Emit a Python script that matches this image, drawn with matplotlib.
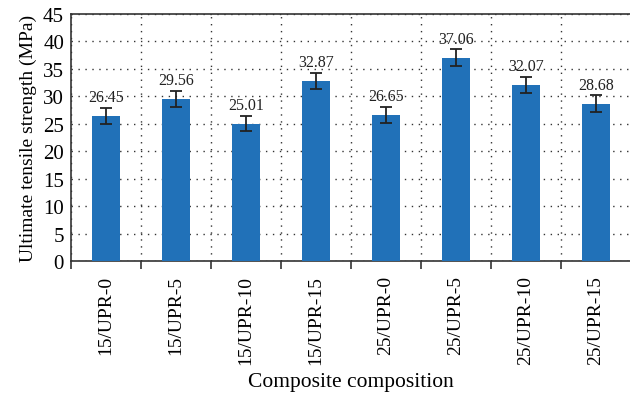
import matplotlib.pyplot as plt
import numpy as np

plt.rcParams['font.family'] = ['Liberation Serif', 'DejaVu Serif']

samples = ['15/UPR-0', '15/UPR-5', '15/UPR-10', '15/UPR-15',
           '25/UPR-0', '25/UPR-5', '25/UPR-10', '25/UPR-15']
strength = [26.45, 29.56, 25.01, 32.87, 26.65, 37.06, 32.07, 28.68]
errors = [1.5, 1.45, 1.4, 1.45, 1.45, 1.5, 1.45, 1.5]

x = np.arange(len(samples))

fig = plt.figure(figsize=(6.3, 4.06), dpi=100)
ax = fig.add_axes([71 / 630, 144 / 406, 560 / 630, 247 / 406])

ax.bar(x, strength, width=0.41, color='#2171b8', zorder=3,
       yerr=errors, error_kw=dict(ecolor='#222222', elinewidth=1.3,
                                  capsize=4, capthick=1.3, zorder=4))

for xi, v, e in zip(x, strength, errors):
    ax.text(xi, v + e + 0.5, f'{v:.2f}', ha='center', va='bottom',
            fontsize=11.5, color='#222222', zorder=5)

ax.set_xlim(-0.5, len(samples) - 0.5)
ax.set_ylim(0, 45)
ax.set_yticks(np.arange(0, 46, 5))

# category labels centred, tick marks and grid on the boundaries
ax.set_xticks(x)
ax.set_xticklabels(samples, rotation=90, fontsize=14)
ax.tick_params(axis='x', which='major', length=0, pad=10)
ax.set_xticks(np.arange(-0.5, len(samples), 1), minor=True)
ax.tick_params(axis='x', which='minor', length=6, width=1.2, color='#333333')
ax.tick_params(axis='y', labelsize=15, length=0, pad=5)

ax.grid(axis='y', which='major', linestyle=(0, (1, 4)), color='#333333', linewidth=1, zorder=0)
ax.grid(axis='x', which='minor', linestyle=(0, (1, 4)), color='#333333', linewidth=1, zorder=0)

for side in ['left', 'top', 'bottom']:
    ax.spines[side].set_color('#333333')
    ax.spines[side].set_linewidth(1.2)
ax.spines['right'].set_visible(False)

ax.set_ylabel('Ultimate tensile strength (MPa)', fontsize=14, labelpad=4)
ax.set_xlabel('Composite composition', fontsize=15.5, labelpad=6)

fig.savefig('out.png', dpi=100)
